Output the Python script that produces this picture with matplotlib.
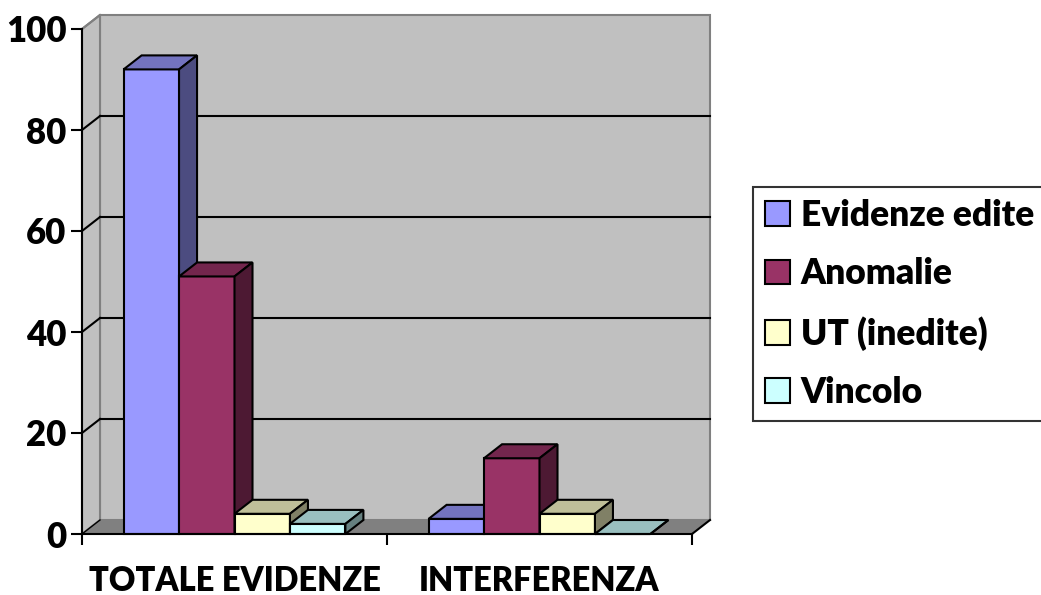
import matplotlib
matplotlib.use("Agg")
from matplotlib import pyplot as plt
from matplotlib.patches import Polygon, Patch

categories = ['TOTALE EVIDENZE', 'INTERFERENZA']
series = ['Evidenze edite', 'Anomalie', 'UT (inedite)', 'Vincolo']
evidenze_edite = [92, 3]
anomalie = [51, 15]
ut_inedite = [4, 4]
vincolo = [2, 0]
values = [evidenze_edite, anomalie, ut_inedite, vincolo]

front_colors = ['#9999FF', '#993366', '#FFFFCC', '#CCFFFF']
top_colors = ['#7373BF', '#73264D', '#BFBF99', '#99BFBF']
side_colors = ['#4C4C80', '#4D1933', '#808066', '#668080']

plt.rcParams['font.family'] = ['Lato', 'DejaVu Sans']
plt.rcParams['font.weight'] = 'bold'

W, H = 1041, 595
fig = plt.figure(figsize=(W / 100, H / 100), dpi=100)
# front plane of the 3d box
ax = fig.add_axes([82 / W, (H - 534) / H, (692 - 82) / W, (534 - 29) / H])
ax.set_xlim(-0.5, 1.5)
ax.set_ylim(0, 100)
ax.patch.set_visible(False)

# depth offset of the box, in data units
dx = 18 / 305
dy = 14 / 5.05
x0, x1 = -0.5, 1.5

# walls and floor
wall = dict(facecolor='#C0C0C0', edgecolor='#808080', lw=1.5, clip_on=False, zorder=0.5)
ax.add_patch(Polygon([(x0 + dx, dy), (x1 + dx, dy), (x1 + dx, 100 + dy), (x0 + dx, 100 + dy)], **wall))
ax.add_patch(Polygon([(x0, 0), (x0 + dx, dy), (x0 + dx, 100 + dy), (x0, 100)], **wall))
ax.add_patch(Polygon([(x0, 0), (x1, 0), (x1 + dx, dy), (x0 + dx, dy)],
                     facecolor='#808080', edgecolor='none', clip_on=False, zorder=0.6))
ax.plot([x1, x1 + dx], [0, dy], color='black', lw=1.5, clip_on=False, zorder=0.7)
ax.plot([x0, x0 + dx], [0, dy], color='black', lw=1, clip_on=False, zorder=0.7)

# gridlines on back and side wall
for g in [20, 40, 60, 80]:
    ax.plot([x0 + dx, x1 + dx], [g + dy, g + dy], color='black', lw=1.5, clip_on=False, zorder=1)
    ax.plot([x0, x0 + dx], [g, g + dy], color='black', lw=1.5, clip_on=False, zorder=1)
ax.plot([x0, x0 + dx], [100, 100 + dy], color='#808080', lw=1.5, clip_on=False, zorder=1)

# 3d bars
w = 1 / 5.5
z = 2
for c in range(len(categories)):
    for i, s in enumerate(series):
        v = values[i][c]
        left = c - 2 * w + i * w
        right = left + w
        edge = dict(edgecolor='black', lw=1.5, clip_on=False, joinstyle='miter')
        ax.add_patch(Polygon([(left, 0), (right, 0), (right, v), (left, v)],
                             facecolor=front_colors[i], zorder=z, **edge))
        ax.add_patch(Polygon([(left, v), (right, v), (right + dx, v + dy), (left + dx, v + dy)],
                             facecolor=top_colors[i], zorder=z, **edge))
        ax.add_patch(Polygon([(right, 0), (right + dx, dy), (right + dx, v + dy), (right, v)],
                             facecolor=side_colors[i], zorder=z, **edge))
        z += 0.01

# axes lines and ticks
for sp in ['top', 'right']:
    ax.spines[sp].set_visible(False)
for sp in ['left', 'bottom']:
    ax.spines[sp].set_linewidth(1.5)
    ax.spines[sp].set_zorder(3)

ax.set_yticks([0, 20, 40, 60, 80, 100])
ax.tick_params(axis='y', length=8, width=1.5, pad=3, labelsize=25)
ax.set_xticks([0, 1])
ax.set_xticklabels(categories)
ax.set_xticks([-0.5, 0.5, 1.5], minor=True)
ax.tick_params(axis='x', which='major', length=0, pad=22, labelsize=23.5)
ax.tick_params(axis='x', which='minor', length=8, width=1.5)
for lab in ax.get_xticklabels() + ax.get_yticklabels():
    lab.set_fontweight('heavy')

handles = [Patch(facecolor=front_colors[i], edgecolor='black', lw=1.5, label=s)
           for i, s in enumerate(series)]
leg = fig.legend(handles=handles, loc='center left', bbox_to_anchor=(753 / W, (H - 304) / H),
                 prop={'size': 25.5, 'weight': 'heavy'}, frameon=True, fancybox=False,
                 handlelength=0.7, handleheight=0.7, handletextpad=0.3, labelspacing=0.72,
                 borderpad=0.35, borderaxespad=0)
leg.get_frame().set_edgecolor('black')
leg.get_frame().set_linewidth(1.5)

fig.savefig('out.png', dpi=100)
